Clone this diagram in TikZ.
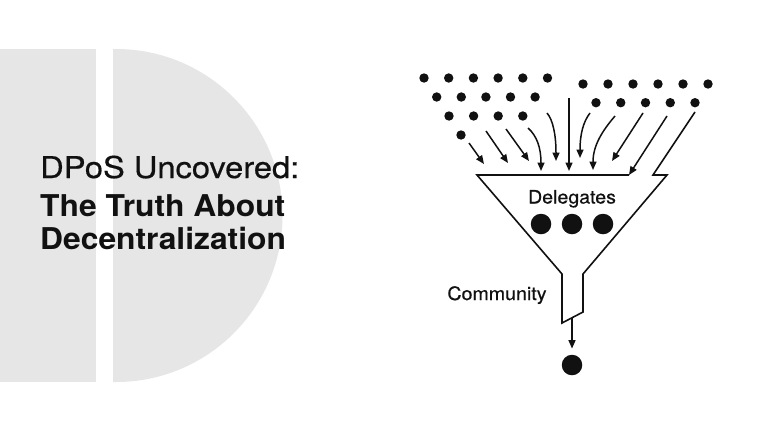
\documentclass[tikz,border=0pt]{standalone}
\usepackage{fontspec}
\setmainfont{TeX Gyre Heros}
\newfontfamily\heavyfont[FakeBold=0.5]{TeX Gyre Heros}
\usepackage{graphicx}
\usetikzlibrary{arrows.meta}
\definecolor{slab}{HTML}{E6E6E6}
\definecolor{ink}{HTML}{111111}
\newcommand{\widetext}[1]{\scalebox{1.06}[1]{#1}}
\newcommand{\widertext}[1]{\scalebox{1.09}[1]{#1}}

\begin{document}
\begin{tikzpicture}[x=1pt, y=-1pt, dot/.style={circle, fill=ink, inner sep=0pt, minimum size=9.4pt}, bigdot/.style={circle, fill=ink, inner sep=0pt, minimum size=20.5pt}, flow/.style={draw=ink, line width=1.5pt, -{Triangle[length=8.5pt, width=7pt]}}, funnel/.style={draw=ink, line width=1.6pt}, headline/.style={anchor=base west, inner sep=0pt, text=ink, font=\heavyfont\fontsize{30}{36}\selectfont}, headbold/.style={headline, font=\normalfont\fontsize{30}{36}\selectfont\bfseries}, tag/.style={anchor=base, inner sep=0pt, text=ink, font=\heavyfont\fontsize{18.5}{22}\selectfont}]
\useasboundingbox (0,0) rectangle (768,432);
\fill[white] (0,0) rectangle (768,432);
\fill[slab] (0,49) rectangle (96,382);
\fill[slab] (113,49) -- (116,49) arc[start angle=-90, end angle=90, radius=166.5] -- (113,382) -- cycle;
\node[headline] (title1) at (40,178) {\widertext{DPoS Uncovered:}};
\node[headbold] (title2) at (40,216) {\widetext{The Truth About}};
\node[headbold] (title3) at (40,249.5) {\widetext{Decentralization}};
\foreach \i in {0,...,5} {
  \node[dot] (ua\i) at ({424+24.7*\i},78) {};
  \node[dot] (va\i) at ({583+25*\i},84) {};
}
\foreach \i in {0,...,4} {
  \node[dot] (ub\i) at ({436.7+24.6*\i},97) {};
  \node[dot] (vb\i) at ({596+24.75*\i},102.7) {};
}
\foreach \i in {0,...,3} \node[dot] (uc\i) at ({449+24.6*\i},116) {};
\node[dot] (ud0) at (461,135) {};
\coordinate (rimend) at (629,175);
\draw[funnel] (rimend) -- (477,175) -- (562,274) -- (562,323) -- (583,312) -- (583,274) -- (667,175) -- (653,175) -- (695,112);
\foreach \n/\sx/\sy/\ex/\ey in {1/469/143/484/164, 2/486/131/508/163, 3/506/129/529/161, 6/569/98/569/171, 9/643/113/612/161} {
  \coordinate (src\n) at (\sx,\sy);
  \coordinate (dst\n) at (\ex,\ey);
  \draw[flow] (src\n) -- (dst\n);
}
\coordinate (src10) at (667,116);
\draw[flow] (src10) -- (rimend);
\coordinate (src4) at (528,128);
\coordinate (dst4) at (541,171);
\draw[flow] (src4) .. controls (537,136) and (541,148) .. (dst4);
\coordinate (src5) at (547,113);
\coordinate (dst5) at (556,161);
\draw[flow] (src5) .. controls (553,120) and (556,135) .. (dst5);
\coordinate (src7) at (590,113);
\coordinate (dst7) at (580,158);
\draw[flow] (src7) .. controls (583,122) and (580,135) .. (dst7);
\coordinate (src8) at (615,116);
\coordinate (dst8) at (593,170);
\draw[flow] (src8) .. controls (603,130) and (593,145) .. (dst8);
\node[tag] (deleg) at (572,203.5) {\widetext{Delegates}};
\node[bigdot] (d1) at (541,224) {};
\node[bigdot] (d2) at (572,224) {};
\node[bigdot] (d3) at (603,224) {};
\node[tag] (comm) at (497,300) {\widetext{Community}};
\coordinate (spout) at (572,318);
\node[bigdot] (out) at (572,365) {};
\draw[flow, shorten >=6pt] (spout) -- (out.north);
\end{tikzpicture}
\end{document}
